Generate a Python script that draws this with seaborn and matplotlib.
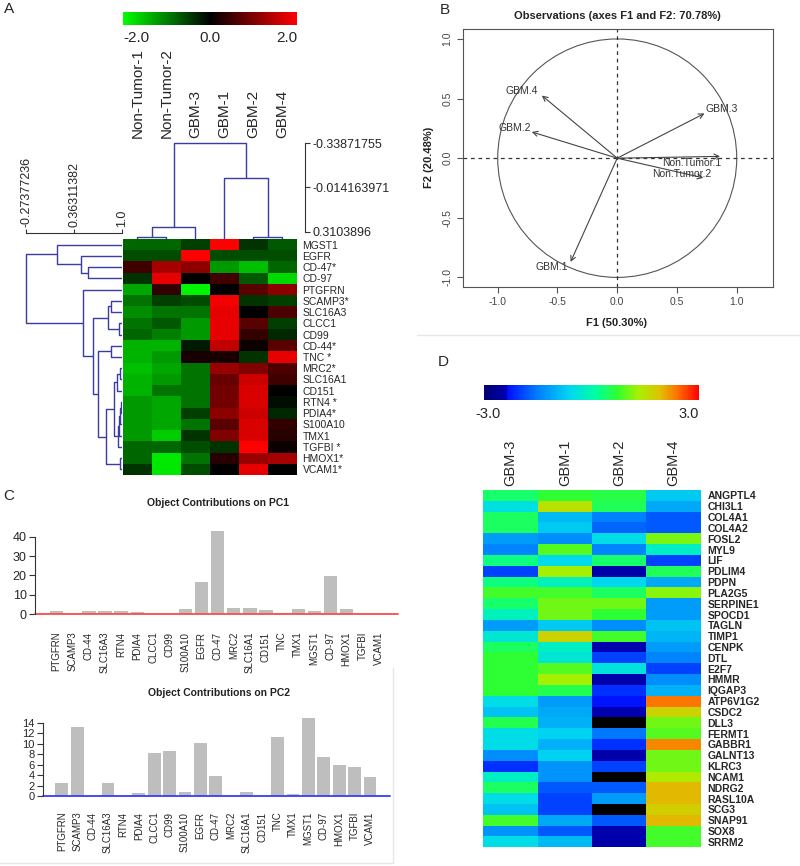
import numpy as np
import pandas as pd
import matplotlib
matplotlib.use('Agg')
import matplotlib.pyplot as plt
import seaborn as sns
from matplotlib.colors import LinearSegmentedColormap
from matplotlib.patches import Circle
from matplotlib.lines import Line2D

W, H = 800, 866

# ---------------- panel A: clustered heatmap ----------------
a_samples = ['Non-Tumor-1', 'Non-Tumor-2', 'GBM-3', 'GBM-1', 'GBM-2', 'GBM-4']
a_genes = ['MGST1', 'EGFR', 'CD-47*', 'CD-97', 'PTGFRN', 'SCAMP3*', 'SLC16A3', 'CLCC1',
           'CD99', 'CD-44*', 'TNC *', 'MRC2*', 'SLC16A1', 'CD151', 'RTN4 *', 'PDIA4*',
           'S100A10', 'TMX1', 'TGFBI *', 'HMOX1*', 'VCAM1*']
a_values = [
    [-0.8, -0.8, -0.5, 2.0, -0.4, -0.7],
    [-0.6, -0.6, 2.0, -0.6, -0.6, -0.6],
    [0.5, 1.3, 1.1, -1.2, -1.5, -0.8],
    [-0.4, 1.8, 0.0, 0.5, -0.7, -1.7],
    [-1.3, 0.4, -1.9, 0.0, 0.7, 1.1],
    [-0.9, -0.5, -0.6, 1.9, -0.4, -0.5],
    [-1.1, -0.9, -0.9, 1.8, 0.0, 0.6],
    [-0.9, -0.7, -1.2, 1.8, 0.7, -0.5],
    [-0.8, -1.0, -1.2, 1.8, 0.4, -0.3],
    [-1.4, -1.4, -0.2, 1.5, 0.1, 0.7],
    [-1.4, -1.2, 0.2, 0.2, -0.4, 1.8],
    [-1.5, -1.3, -0.9, 1.2, 1.0, 0.6],
    [-1.4, -1.2, -0.9, 0.8, 1.6, 0.5],
    [-1.4, -0.9, -0.9, 0.9, 1.7, 0.0],
    [-1.2, -1.3, -0.9, 0.9, 1.7, -0.1],
    [-1.2, -1.3, -0.5, 1.1, 1.6, -0.3],
    [-1.2, -1.3, -0.9, 0.7, 1.7, 0.4],
    [-1.2, -1.6, -0.4, 1.0, 1.7, 0.3],
    [-0.8, -0.8, -0.6, -0.4, 2.0, 0.1],
    [-0.8, -1.8, -0.9, 0.3, 1.2, 1.3],
    [-0.4, -1.8, -0.6, 0.0, 1.8, 0.0],
]
# merges (child, child, height); leaves are 0..n-1, new nodes numbered from n
a_row_merges = [
    (2, 3, 0.55), (1, 21, 0.457), (0, 22, 0.138),
    (5, 6, 0.851), (7, 8, 0.965), (24, 25, 0.819),
    (9, 10, 0.851),
    (11, 12, 0.975), (28, 13, 0.94),
    (14, 15, 0.985), (30, 16, 0.975), (31, 17, 0.96), (32, 18, 0.945),
    (29, 33, 0.888), (19, 20, 0.975), (34, 35, 0.788),
    (27, 36, 0.678), (26, 37, 0.62), (4, 38, 0.487), (23, 39, -0.27377236),
]
a_row_ticks = [-0.27377236, 0.36311382, 1.0]
a_row_ticklabels = ['-0.27377236', '0.36311382', '1.0']
a_col_merges = [(0, 1, 0.345), (4, 5, 0.345), (6, 2, 0.272), (3, 7, -0.0813),
                (8, 9, -0.33871755)]
a_col_ticks = [-0.33871755, -0.014163971, 0.3103896]
a_col_ticklabels = ['-0.33871755', '-0.014163971', '0.3103896']

# ---------------- panel B: correlation circle ----------------
obs_names = ['GBM.1', 'GBM.2', 'GBM.3', 'GBM.4', 'Non.Tumor.1', 'Non.Tumor.2']
obs_f1 = [-0.39, -0.715, 0.73, -0.63, 0.86, 0.72]
obs_f2 = [-0.87, 0.22, 0.375, 0.525, 0.015, -0.165]
# label offsets from the arrow tip (data units)
obs_label_dx = [-0.155, -0.145, 0.147, -0.17, -0.234, -0.178]
obs_label_dy = [-0.04, 0.035, 0.04, 0.035, -0.058, 0.032]

# ---------------- panel C: contributions ----------------
pc_genes = ['PTGFRN', 'SCAMP3', 'CD-44', 'SLC16A3', 'RTN4', 'PDIA4', 'CLCC1', 'CD99',
            'S100A10', 'EGFR', 'CD-47', 'MRC2', 'SLC16A1', 'CD151', 'TNC', 'TMX1',
            'MGST1', 'CD-97', 'HMOX1', 'TGFBI', 'VCAM1']
pc1_contrib = [1.7, 0.0, 1.7, 1.7, 1.7, 1.0, 0.0, 0.0, 2.6, 16.4, 43.1, 3.3, 3.3, 2.1,
               0.9, 2.6, 1.7, 19.5, 2.6, 0.0, 0.0]
pc2_contrib = [2.4, 13.2, 0.0, 2.4, 0.0, 0.6, 8.3, 8.5, 0.7, 10.1, 3.8, 0.0, 0.8, 0.0,
               11.2, 0.4, 14.8, 7.4, 5.9, 5.5, 3.7]

# ---------------- panel D: heatmap ----------------
d_samples = ['GBM-3', 'GBM-1', 'GBM-2', 'GBM-4']
d_genes = ['ANGPTL4', 'CHI3L1', 'COL4A1', 'COL4A2', 'FOSL2', 'MYL9', 'LIF', 'PDLIM4',
           'PDPN', 'PLA2G5', 'SERPINE1', 'SPOCD1', 'TAGLN', 'TIMP1', 'CENPK', 'DTL',
           'E2F7', 'HMMR', 'IQGAP3', 'ATP6V1G2', 'CSDC2', 'DLL3', 'FERMT1', 'GABBR1',
           'GALNT13', 'KLRC3', 'NCAM1', 'NDRG2', 'RASL10A', 'SCG3', 'SNAP91', 'SOX8',
           'SRRM2']
d_gbm3 = [0.42, -0.45, 0.45, 0.45, -1.2, -1.45, 0.3, -1.95, 0.3, 0.8, 0.4, -0.15, -1.2,
          -0.35, 0.45, 0.7, 0.7, 0.7, 0.7, -0.5, -0.8, 0.55, -0.5, -0.5, -1.35, -2.1,
          -0.2, 0.45, -0.5, -0.8, 0.8, -1.3, -0.5]
d_gbm1 = [0.7, 1.5, -0.9, -0.75, -1.35, 0.9, -0.55, 1.3, -0.15, 0.8, 1.05, 1.05, -0.75,
          1.7, -0.2, -0.35, 0.9, 1.3, 0.55, -1.2, -1.1, -1.0, -0.65, -1.0, -0.65, -1.3,
          -1.3, -1.8, -1.95, -1.95, -1.1, -1.8, -0.9]
d_gbm2 = [0.6, 0.5, -1.5, -1.7, -0.5, -1.45, 0.4, -2.45, -0.6, 0.45, 1.05, 0.7, -1.35,
          0.8, -2.4, -1.95, -0.4, -2.45, -2.1, -2.3, -2.4, -4.0, -1.55, -2.1, -2.45,
          -1.95, -4.0, -1.8, -1.2, -4.0, -1.8, -2.4, -2.45]
d_gbm4 = [-0.75, -1.1, -1.8, -1.8, 1.1, -0.2, -1.95, 0.5, -1.1, 1.15, -1.2, -1.2, -0.8,
          -0.95, -1.2, -1.45, -1.95, -1.35, -1.0, 2.35, 1.7, 1.05, 0.9, 2.25, 1.05, 1.05,
          1.4, 1.95, 1.95, 1.75, 1.95, 0.8, 0.8]


def px_axes(fig, x0, y0, x1, y1):
    # axes placed in pixel coordinates measured from the top-left corner
    return fig.add_axes([x0 / W, 1 - y1 / H, (x1 - x0) / W, (y1 - y0) / H])


def draw_dendrogram(ax, merges, n_leaves, leaf_height, side):
    pos = {i: i + 0.5 for i in range(n_leaves)}
    hgt = {i: leaf_height for i in range(n_leaves)}
    for k, (a, b, h) in enumerate(merges):
        hs = [hgt[a], h, h, hgt[b]]
        ps = [pos[a], pos[a], pos[b], pos[b]]
        if side == 'left':
            ax.plot(hs, ps, color='#3b3ba6', lw=1.0, solid_capstyle='butt')
        else:
            ax.plot(ps, hs, color='#3b3ba6', lw=1.0, solid_capstyle='butt')
        pos[n_leaves + k] = (pos[a] + pos[b]) / 2
        hgt[n_leaves + k] = h


sns.set_style('white')
plt.rcParams['font.family'] = ['Liberation Sans', 'DejaVu Sans']
plt.rcParams['axes.linewidth'] = 0.8

fig = plt.figure(figsize=(W / 100, H / 100), dpi=100)

# ---- A heatmap
a_df = pd.DataFrame(a_values, index=a_genes, columns=a_samples)
gbr = LinearSegmentedColormap.from_list('gbr', ['#00ff00', '#000000', '#ff0000'])
ax_a = px_axes(fig, 123, 239, 297, 475)
sns.heatmap(a_df, ax=ax_a, cmap=gbr, vmin=-2, vmax=2, cbar=False,
            xticklabels=True, yticklabels=True)
ax_a.xaxis.tick_top()
ax_a.yaxis.tick_right()
ax_a.tick_params(axis='x', length=0, pad=73, labelsize=11, labelrotation=90)
ax_a.tick_params(axis='y', length=0, pad=4, labelsize=7.5, labelrotation=0)
ax_a.set_xlabel('')
ax_a.set_ylabel('')

cax_a = px_axes(fig, 123, 12, 297, 25)
cb_a = fig.colorbar(ax_a.collections[0], cax=cax_a, orientation='horizontal')
cb_a.outline.set_visible(False)
cb_a.set_ticks([])
for xf, txt, ha in [(0.0, '-2.0', 'left'), (0.5, '0.0', 'center'), (1.0, '2.0', 'right')]:
    cax_a.text(xf, -0.45, txt, transform=cax_a.transAxes, ha=ha, va='top', fontsize=11)

# row dendrogram (left)
ax_rd = px_axes(fig, 20, 233, 122.5, 475)
ax_rd.set_facecolor('none')
ax_rd.set_xlim(-0.3534, 1.0066)
ax_rd.set_ylim(21, -0.534)
draw_dendrogram(ax_rd, a_row_merges, len(a_genes), 1.0066, 'left')
for s in ['left', 'right', 'bottom']:
    ax_rd.spines[s].set_visible(False)
ax_rd.spines['top'].set_bounds(a_row_ticks[0], a_row_ticks[-1])
ax_rd.spines['top'].set_color('#333333')
ax_rd.xaxis.tick_top()
ax_rd.set_xticks(a_row_ticks, labels=a_row_ticklabels)
ax_rd.set_yticks([])
ax_rd.tick_params(axis='x', top=True, length=3, pad=1, labelsize=9, labelrotation=90,
                  color='#333333')

# column dendrogram (top)
ax_cd = px_axes(fig, 123, 140, 305, 239)
ax_cd.set_facecolor('none')
ax_cd.set_xlim(0, 6.276)
ax_cd.set_ylim(0.3615, -0.3606)
draw_dendrogram(ax_cd, a_col_merges, len(a_samples), 0.3615, 'top')
for s in ['left', 'top', 'bottom']:
    ax_cd.spines[s].set_visible(False)
ax_cd.spines['right'].set_bounds(a_col_ticks[0], a_col_ticks[-1])
ax_cd.spines['right'].set_color('#333333')
ax_cd.yaxis.tick_right()
ax_cd.set_yticks(a_col_ticks, labels=a_col_ticklabels)
ax_cd.set_xticks([])
ax_cd.tick_params(axis='y', right=True, length=3.5, pad=2, labelsize=9, color='#333333')

# ---- B correlation circle
ax_b = px_axes(fig, 462.7, 29.3, 772.7, 286.7)
ax_b.set_xlim(-1.293, 1.301)
ax_b.set_ylim(-1.078, 1.081)
ax_b.add_patch(Circle((0, 0), 1, fill=False, ec='#555555', lw=0.8))
ax_b.axhline(0, color='#333333', lw=0.9, ls=(0, (3, 3)))
ax_b.axvline(0, color='#333333', lw=0.9, ls=(0, (3, 3)))
for name, x, y, dx, dy in zip(obs_names, obs_f1, obs_f2, obs_label_dx, obs_label_dy):
    ax_b.annotate('', xy=(x, y), xytext=(0, 0),
                  arrowprops=dict(arrowstyle='->,head_length=0.35,head_width=0.18',
                                  color='#444444', lw=0.8, shrinkA=0, shrinkB=0))
    ax_b.text(x + dx, y + dy, name, ha='center', va='center', fontsize=7.5, color='#333333')
b_ticks = [-1.0, -0.5, 0.0, 0.5, 1.0]
b_ticklabels = ['-1.0', '-0.5', '0.0', '0.5', '1.0']
ax_b.set_xticks(b_ticks, labels=b_ticklabels)
ax_b.set_yticks(b_ticks, labels=b_ticklabels)
for s in ax_b.spines.values():
    s.set_color('#555555')
ax_b.tick_params(bottom=True, left=True, length=4.3, width=0.8, color='#555555',
                 labelsize=7.5, labelcolor='#444444', pad=3)
ax_b.tick_params(axis='y', labelrotation=90)
for t in ax_b.get_yticklabels():
    t.set_va('center')
fig.text(617 / W, 1 - 16 / H, 'Observations (axes F1 and F2: 70.78%)', ha='center',
         va='center', fontsize=8, fontweight='bold', color='#222222')
fig.text(617 / W, 1 - 323 / H, 'F1 (50.30%)', ha='center', va='center', fontsize=8,
         fontweight='bold', color='#222222')
fig.text(429 / W, 1 - 157 / H, 'F2 (20.48%)', ha='center', va='center', fontsize=8,
         fontweight='bold', color='#222222', rotation=90)
fig.add_artist(Line2D([417 / W, 1], [1 - 335 / H, 1 - 335 / H], color='#e6e6e6', lw=1))

# ---- C contributions on PC1 / PC2
ax_c1 = px_axes(fig, 35, 528.9, 398, 614.3)
sns.barplot(x=pc_genes, y=pc1_contrib, color='#bebebe', saturation=1, width=0.83,
            linewidth=0, ax=ax_c1)
ax_c1.set_xlim(-1.348, 21.2)
ax_c1.set_ylim(0, 44)
ax_c1.set_yticks([0, 10, 20, 30, 40])
sns.despine(ax=ax_c1, bottom=True)
ax_c1.spines['left'].set_bounds(0, 40)
ax_c1.spines['left'].set_color('#333333')
ax_c1.tick_params(axis='y', left=True, length=4, width=0.8, color='#333333',
                  labelsize=9, pad=2)
ax_c1.tick_params(axis='x', length=0, pad=12.5, labelsize=7, labelrotation=90)
ax_c1.axhline(0, color='#ff4a4a', lw=1.3, clip_on=False)
fig.text(218 / W, 1 - 503 / H, 'Object Contributions on PC1', ha='center', va='center',
         fontsize=7.5, fontweight='bold', color='#222222')

ax_c2 = px_axes(fig, 43.3, 716.4, 390, 796)
sns.barplot(x=pc_genes, y=pc2_contrib, color='#bebebe', saturation=1, width=0.83,
            linewidth=0, ax=ax_c2)
ax_c2.set_xlim(-1.2, 21.3)
ax_c2.set_ylim(0, 15.2)
ax_c2.set_yticks([0, 2, 4, 6, 8, 10, 12, 14])
sns.despine(ax=ax_c2, bottom=True)
ax_c2.spines['left'].set_bounds(0, 14)
ax_c2.spines['left'].set_color('#333333')
ax_c2.tick_params(axis='y', left=True, length=4, width=0.8, color='#333333',
                  labelsize=8, pad=2)
ax_c2.tick_params(axis='x', length=0, pad=11.3, labelsize=7, labelrotation=90)
ax_c2.axhline(0, color='#3a3aff', lw=1.3, clip_on=False)
fig.text(219 / W, 1 - 692.7 / H, 'Object Contributions on PC2', ha='center', va='center',
         fontsize=7.5, fontweight='bold', color='#222222')
fig.add_artist(Line2D([393 / W, 393 / W], [1 - 668 / H, 1 - 863 / H], color='#e6e6e6', lw=1))
fig.add_artist(Line2D([0, 393 / W], [1 - 863 / H, 1 - 863 / H], color='#e6e6e6', lw=1))

# ---- D heatmap
d_df = pd.DataFrame({'GBM-3': d_gbm3, 'GBM-1': d_gbm1, 'GBM-2': d_gbm2, 'GBM-4': d_gbm4},
                    index=d_genes)[d_samples]
d_cmap = LinearSegmentedColormap.from_list('d_cmap', [
    (0.00, '#000070'), (0.10, '#0000b0'), (0.11, '#0010ff'), (0.25, '#0080ff'),
    (0.40, '#00d8f0'), (0.52, '#00ffa0'), (0.62, '#30ff30'), (0.72, '#a8f000'),
    (0.82, '#e0c000'), (0.90, '#ff7000'), (1.00, '#ff0000')])
d_cmap.set_under('black')
ax_d = px_axes(fig, 483.3, 490, 700.7, 847.3)
sns.heatmap(d_df, ax=ax_d, cmap=d_cmap, vmin=-3, vmax=3, cbar=False,
            xticklabels=True, yticklabels=True)
ax_d.xaxis.tick_top()
ax_d.yaxis.tick_right()
ax_d.tick_params(axis='x', length=0, pad=3, labelsize=10.5, labelrotation=90)
ax_d.tick_params(axis='y', length=0, pad=5, labelsize=7.5, labelrotation=0)
for t in ax_d.get_yticklabels():
    t.set_fontweight('bold')
ax_d.set_xlabel('')
ax_d.set_ylabel('')

cax_d = px_axes(fig, 484, 385, 699.3, 400)
cb_d = fig.colorbar(ax_d.collections[0], cax=cax_d, orientation='horizontal')
cb_d.outline.set_visible(False)
cb_d.set_ticks([])
cax_d.text(0.02, -0.5, '-3.0', transform=cax_d.transAxes, ha='center', va='top', fontsize=10.5)
cax_d.text(1.0, -0.5, '3.0', transform=cax_d.transAxes, ha='right', va='top', fontsize=10.5)

# ---- panel letters
for letter, x, y in [('A', 9, 9), ('B', 445, 10), ('C', 9, 496), ('D', 443, 362)]:
    fig.text(x / W, 1 - y / H, letter, ha='center', va='center', fontsize=11)

fig.savefig('out.png', dpi=100)
plt.close(fig)
